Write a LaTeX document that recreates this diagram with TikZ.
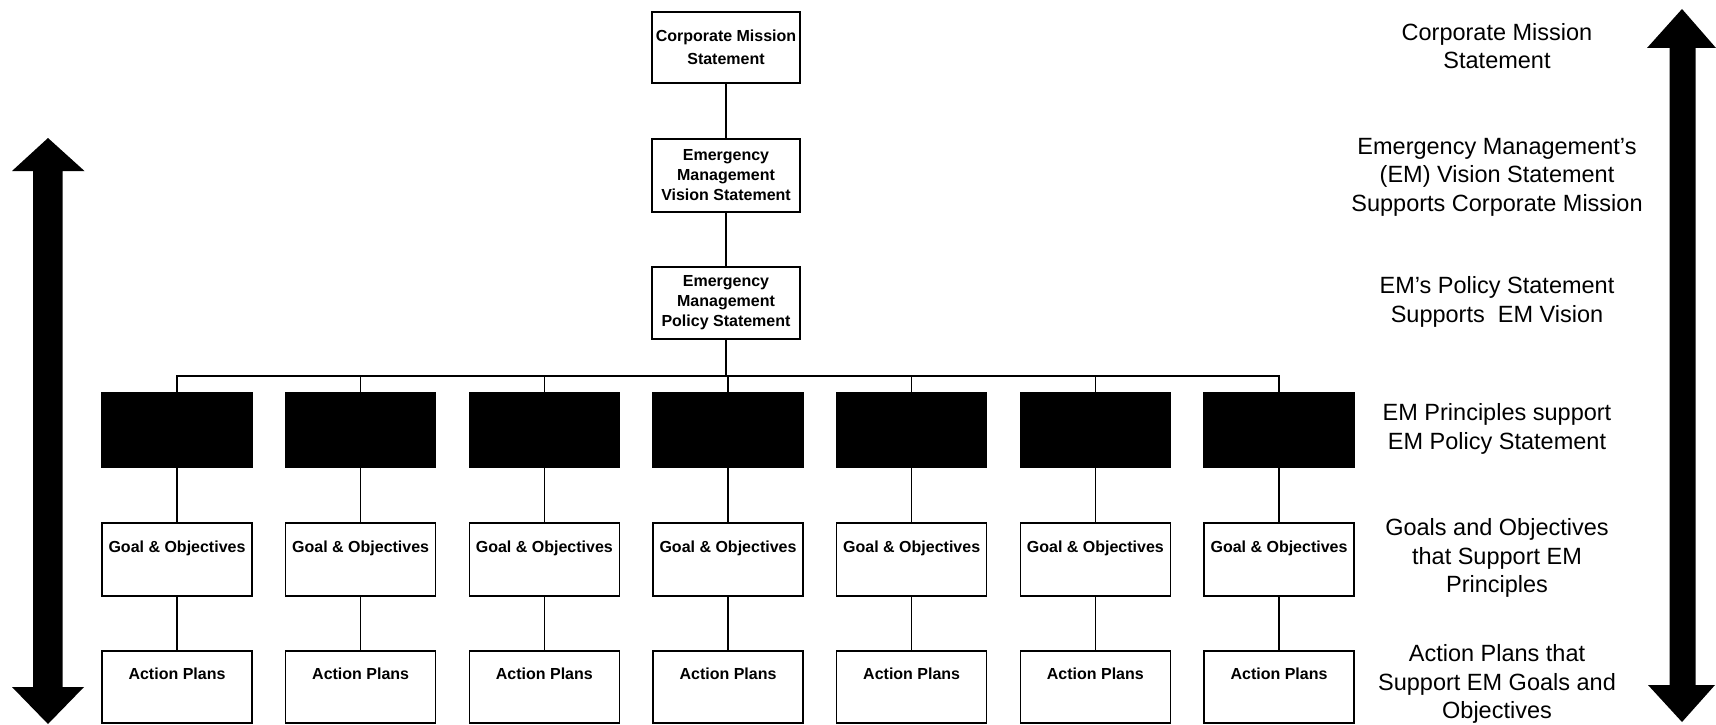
\documentclass[tikz,border=0pt]{standalone}
\usepackage{fontspec}
\setmainfont{Liberation Sans}
\begin{document}
\begin{tikzpicture}[x=1pt,y=-1pt,
  box/.style={draw=black,line width=1.4pt,fill=white,minimum width=148pt,inner sep=0pt,align=center,
    font=\bfseries\fontsize{16}{20}\selectfont},
  pbox/.style={draw=black,line width=1.4pt,fill=black,minimum width=150pt,minimum height=74pt,inner sep=0pt},
  gbox/.style={box,minimum width=150pt,minimum height=73pt},
  abox/.style={box,minimum width=150pt,minimum height=72pt},
  conn/.style={draw=black,line width=1.1pt},
  side/.style={align=center,font=\fontsize{23.5}{28.5}\selectfont,inner sep=0pt},
  bigarrow/.style={fill=black,draw=none}]
\useasboundingbox (0,0) rectangle (1716,725);
% top chain
\node[box,minimum height=71pt,font=\bfseries\fontsize{16}{23}\selectfont] (cm) at (726,47.5) {Corporate Mission\\Statement};
\node[box,minimum height=73pt] (vs) at (726,175.5) {Emergency\\Management\\Vision Statement};
\node[box,minimum height=72pt] (ps) at (726,303) {Emergency\\Management\\Policy Statement};
\draw[conn] (cm.south) -- (vs.north);
\draw[conn] (vs.south) -- (ps.north);
\coordinate (bus) at (726,376);
\foreach \i in {0,...,6}{
  \pgfmathsetmacro{\cx}{177+183.67*\i}
  \node[pbox] (p\i) at (\cx,430) {};
  \node[gbox] (g\i) at (\cx,559.5) {Goal \& Objectives\\\strut};
  \node[abox] (a\i) at (\cx,687) {Action Plans\\\strut};
  \draw[conn] (ps.south) -- (bus) -| (p\i.north);
  \draw[conn] (p\i.south) -- (g\i.north);
  \draw[conn] (g\i.south) -- (a\i.north);
}
% side texts
\node[side] (t1) at (1497,46) {Corporate Mission\\Statement};
\node[side] (t2) at (1497,177) {Emergency Management's\\(EM) Vision Statement\\Supports Corporate Mission};
\node[side] (t3) at (1497,302) {EM's Policy Statement\\Supports\ \ EM Vision};
\node[side] (t4) at (1497,429) {EM Principles support\\EM Policy Statement};
\node[side] (t5) at (1497,558) {Goals and Objectives\\that Support EM\\Principles};
\node[side] (t6) at (1497,684) {Action Plans that\\Support EM Goals and\\Objectives};
% left double arrow
\path[bigarrow] (48,138) -- (84.5,171) -- (62.5,171) -- (62.5,687) -- (84,687) -- (48,724)
  -- (12,687) -- (33,687) -- (33,171) -- (12,171) -- cycle;
% right double arrow
\path[bigarrow] (1682,9) -- (1716,48) -- (1695.5,48) -- (1695.5,685) -- (1715,685) -- (1682,722)
  -- (1648,685) -- (1669.5,685) -- (1669.5,48) -- (1647,48) -- cycle;
\end{tikzpicture}
\end{document}
